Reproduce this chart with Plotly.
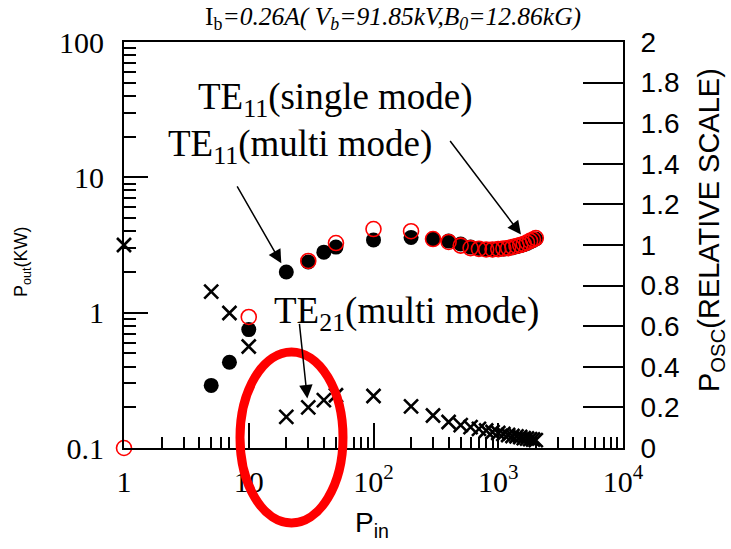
import math
import plotly.graph_objects as go

# ---------------- data ----------------
pin_te11_multi = [5, 7, 10, 20, 30, 40, 50, 100, 200, 300, 400, 500, 600, 700, 800, 900,
                  1000, 1100, 1200, 1300, 1400, 1500, 1600, 1700, 1800, 1900, 2000]
pout_te11_multi = [0.29, 0.43, 0.75, 2.0, 2.37, 2.8, 3.05, 3.45, 3.6, 3.5, 3.38, 3.22, 3.05, 2.98,
                   2.93, 2.92, 2.93, 2.95, 2.98, 3.02, 3.07, 3.12, 3.18, 3.25, 3.33, 3.42, 3.5]

pin_te11_single = [1, 10, 30, 50, 100, 200, 300, 400, 500, 600, 700, 800, 900,
                   1000, 1100, 1200, 1300, 1400, 1500, 1600, 1700, 1800, 1900, 2000]
pout_te11_single = [0.1, 0.93, 2.41, 3.27, 4.15, 4.0, 3.5, 3.33, 3.13, 3.0, 2.96, 2.93, 2.93,
                    2.95, 2.98, 3.0, 3.06, 3.11, 3.16, 3.22, 3.30, 3.39, 3.47, 3.56]

pin_te21_multi = [1, 5, 7, 10, 20, 30, 40, 50, 100, 200, 300, 400, 500, 600, 700, 800, 900,
                  1000, 1100, 1200, 1300, 1400, 1500, 1600, 1700, 1800, 1900, 2000]
posc_te21_multi = [1.0, 0.77, 0.665, 0.50, 0.153, 0.20, 0.236, 0.26, 0.256, 0.205, 0.16, 0.128,
                   0.113, 0.103, 0.094, 0.086, 0.079, 0.074, 0.069, 0.064, 0.059, 0.057, 0.054,
                   0.049, 0.047, 0.044, 0.042, 0.039]

x_tickvals = [1, 10, 100, 1000, 10000]
x_ticktext = ["1", "10", "10<sup>2</sup>", "10<sup>3</sup>", "10<sup>4</sup>"]
y_tickvals = [0.1, 1, 10, 100]
y_ticktext = ["0.1", "1", "10", "100"]

x_minor = [m * 10 ** d for d in range(0, 4) for m in range(2, 10)]
y_minor = [m * 10 ** d for d in range(-1, 2) for m in range(2, 10)]

# ---------------- layout geometry ----------------
W, H = 731, 549
L, R, T, B = 124, 623, 42, 448


def px(xp):
    return (xp - L) / (R - L)


def py(yp):
    return (B - yp) / (B - T)


SERIF = "Times New Roman, Liberation Serif, serif"
SANS = "Arial, Liberation Sans, sans-serif"

fig = go.Figure()

fig.add_trace(go.Scatter(
    x=pin_te11_multi, y=pout_te11_multi, mode="markers",
    marker=dict(symbol="circle", size=15, color="black"),
    name="TE11 multi", cliponaxis=False))
fig.add_trace(go.Scatter(
    x=pin_te11_single, y=pout_te11_single, mode="markers",
    marker=dict(symbol="circle-open", size=15, color="red", line=dict(width=1.6, color="red")),
    name="TE11 single", cliponaxis=False))
fig.add_trace(go.Scatter(
    x=pin_te21_multi, y=posc_te21_multi, mode="markers", yaxis="y2",
    marker=dict(symbol="x-thin-open", size=14, color="black", line=dict(width=2.6, color="black")),
    name="TE21 multi", cliponaxis=False))

fig.update_layout(
    width=W, height=H,
    margin=dict(l=L, r=W - R, t=T, b=H - B),
    paper_bgcolor="white", plot_bgcolor="white",
    showlegend=False,
    xaxis=dict(
        type="log", range=[0, 4], showgrid=False, zeroline=False,
        showline=True, linecolor="black", linewidth=2, mirror=True,
        ticks="inside", ticklen=25, tickwidth=1.5, tickcolor="black",
        tickvals=x_tickvals, ticktext=x_ticktext,
        tickfont=dict(family=SERIF, size=30, color="black"),
        ticklabelstandoff=6,
        minor=dict(tickvals=x_minor, ticks="inside", ticklen=11, tickwidth=1.5,
                   tickcolor="black", showgrid=False),
    ),
    yaxis=dict(
        type="log", range=[-1, 2], showgrid=False, zeroline=False,
        showline=True, linecolor="black", linewidth=2,
        ticks="inside", ticklen=24, tickwidth=2, tickcolor="black",
        tickvals=y_tickvals, ticktext=y_ticktext,
        tickfont=dict(family=SERIF, size=30, color="black"),
        ticklabelstandoff=12,
        minor=dict(tickvals=y_minor, ticks="inside", ticklen=12, tickwidth=2,
                   tickcolor="black", showgrid=False),
    ),
    yaxis2=dict(
        overlaying="y", side="right", range=[0, 2], dtick=0.2, tick0=0,
        showgrid=False, zeroline=False,
        showline=True, linecolor="black", linewidth=2,
        ticks="inside", ticklen=40, tickwidth=2, tickcolor="black",
        tickfont=dict(family=SANS, size=28, color="black"),
        ticklabelstandoff=10,
    ),
)

ann = []
# title
ann.append(dict(
    x=px(393), y=py(18), xref="paper", yref="paper", xanchor="center", yanchor="middle",
    text="I<sub>b</sub><i>=0.26A( V<sub>b</sub>=91.85kV,B<sub>0</sub>=12.86kG)</i>",
    showarrow=False, font=dict(family=SERIF, size=25.5, color="black")))
# axis titles
ann.append(dict(
    x=px(22), y=py(262), xref="paper", yref="paper", xanchor="center", yanchor="middle",
    text="P<sub>out</sub>(KW)", textangle=-90, showarrow=False,
    font=dict(family=SANS, size=18, color="black")))
ann.append(dict(
    x=px(711), y=py(230), xref="paper", yref="paper", xanchor="center", yanchor="middle",
    text="P<sub>OSC</sub>(RELATIVE SCALE)", textangle=-90, showarrow=False,
    font=dict(family=SANS, size=29, color="black")))
ann.append(dict(
    x=px(372), y=py(524), xref="paper", yref="paper", xanchor="center", yanchor="middle",
    text="P<sub>in</sub>", showarrow=False,
    font=dict(family=SANS, size=28, color="black")))
# labels
ann.append(dict(
    x=px(196), y=py(99), xref="paper", yref="paper", xanchor="left", yanchor="middle",
    text="TE<sub>11</sub>(single mode)", showarrow=False,
    font=dict(family=SERIF, size=37, color="black")))
ann.append(dict(
    x=px(166), y=py(146), xref="paper", yref="paper", xanchor="left", yanchor="middle",
    text="TE<sub>11</sub>(multi mode)", showarrow=False,
    font=dict(family=SERIF, size=37, color="black")))
ann.append(dict(
    x=px(272), y=py(313), xref="paper", yref="paper", xanchor="left", yanchor="middle",
    text="TE<sub>21</sub>(multi mode)", showarrow=False,
    font=dict(family=SERIF, size=37, color="black")))

# arrows (anchored on data points)
ann.append(dict(
    x=math.log10(pin_te11_multi[3]), y=math.log10(pout_te11_multi[3]), xref="x", yref="y",
    ax=-50, ay=-87, text="", showarrow=True, arrowhead=2, arrowsize=1.8, arrowwidth=1.5,
    arrowcolor="black", standoff=10))
ann.append(dict(
    x=math.log10(pin_te11_single[-4]), y=math.log10(pout_te11_single[-4]), xref="x", yref="y",
    ax=-78, ay=-103, text="", showarrow=True, arrowhead=2, arrowsize=1.8, arrowwidth=1.5,
    arrowcolor="black", standoff=10))
ann.append(dict(
    x=math.log10(pin_te21_multi[5]), y=posc_te21_multi[5], xref="x", yref="y2",
    ax=-9, ay=-85, text="", showarrow=True, arrowhead=2, arrowsize=1.8, arrowwidth=1.5,
    arrowcolor="black", standoff=9))

fig.update_layout(annotations=ann)

fig.add_shape(type="circle", xref="paper", yref="paper",
              x0=px(240), x1=px(343), y0=py(352), y1=py(523),
              line=dict(color="red", width=9), layer="above")

fig.write_html("out.html")
